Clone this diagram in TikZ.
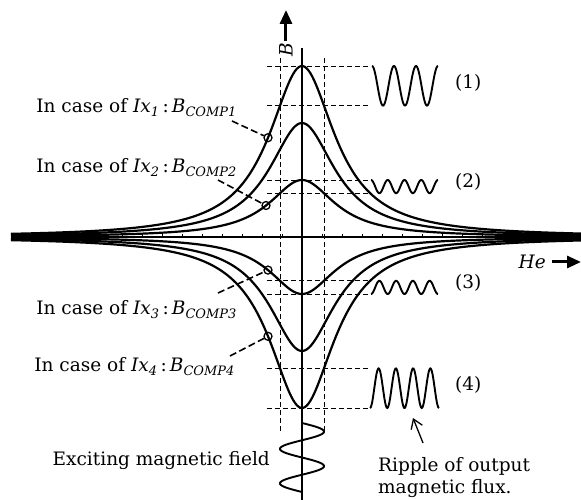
\documentclass[tikz,border=0pt]{standalone}
\usepackage{fontspec}
\setmainfont{DejaVu Serif}
\usetikzlibrary{arrows.meta}
\newcommand{\casetext}[1]{In case of \textit{Ix}\textsubscript{\textit{#1}}\,:\,\textit{B}\textsubscript{\textit{COMP#1}}}

\begin{document}
\begin{tikzpicture}[
  x=1pt, y=1pt,
  font=\fontsize{18.5}{22}\selectfont,
  axis/.style={line width=1.3pt},
  curve/.style={line width=2.2pt, smooth, samples=300, domain=-291:279},
  guide/.style={line width=0.8pt, dash pattern=on 5pt off 3pt},
  leader/.style={line width=1.6pt, dash pattern=on 7pt off 3.5pt},
  wave/.style={line width=1.9pt, smooth, samples=120},
  probe/.style={circle, draw, line width=1.3pt, inner sep=0pt, minimum size=8pt},
  lbl/.style={inner sep=0pt},
  big/.style={-{Triangle[length=14pt, width=12pt]}, line width=3pt}
]
\useasboundingbox (-302,-263) rectangle (279,237);
% axes
\draw[axis] (-291,0) -- (279,0);
\draw[axis] (0,189) -- (0,-263);
\foreach \t in {-280,-260,...,260}
  \draw[line width=0.5pt] (\t,0) -- (\t,3);
% guides
\draw[guide] (-22,179) -- (-22,-194);
\draw[guide] (22,179) -- (22,-194);
\foreach \yy in {171,131.3,57,43.8,-43.8,-57,-131.3,-171}
  \draw[guide] (-35,\yy) -- (68,\yy);
% curves
\foreach \amp in {171,114,57} {
  \draw[curve] plot (\x,{\amp/(1+(\x/40)^2)});
  \draw[curve] plot (\x,{-\amp/(1+(\x/40)^2)});
}
% ripples
\draw[wave] plot[domain=70:136] (\x,{151.2+19.8*cos(16.364*(\x-70))});
\draw[wave] plot[domain=69:136] (\x,{50.4+6.6*cos(21.49*(\x-69))});
\draw[wave] plot[domain=69:136] (\x,{-50.4-6.6*cos(21.49*(\x-69))});
\draw[wave] plot[domain=68:137] (\x,{-151.2-19.8*cos(20.87*(\x-68))});
\node[lbl, anchor=west] (n1) at (153,154) {(1)};
\node[lbl, anchor=west] (n2) at (153,55) {(2)};
\node[lbl, anchor=west] (n3) at (153,-46) {(3)};
\node[lbl, anchor=west] (n4) at (153,-148) {(4)};
% exciting field
\draw[wave] plot[domain=-186:-255] ({22*sin(10.435*(-186-\x))},\x);
% probes and cases
\node[probe] (c1) at (-34,99.3) {};
\node[probe] (c2) at (-36,31.5) {};
\node[probe] (c3) at (-34,-33.1) {};
\node[probe] (c4) at (-34,-99.3) {};
\node[lbl, anchor=base east] (k1) at (-65,124) {\casetext{1}};
\node[lbl, anchor=base east] (k2) at (-65,64) {\casetext{2}};
\node[lbl, anchor=base east] (k3) at (-65,-78) {\casetext{3}};
\node[lbl, anchor=base east] (k4) at (-67,-135) {\casetext{4}};
\coordinate (s1) at (-70,116);
\coordinate (s2) at (-84,57);
\coordinate (s3) at (-84,-56);
\coordinate (s4) at (-72,-119);
\draw[leader] (s1) -- (c1);
\draw[leader] (s2) -- (c2);
\draw[leader] (s3) -- (c3);
\draw[leader] (s4) -- (c4);
% axis names
\node[lbl, rotate=90] (bname) at (-16,187) {\textit{B}};
\coordinate (btip) at (-16,227);
\draw[big] ([yshift=2pt]bname.east) -- (btip);
\node[lbl, anchor=east] (hname) at (244,-25) {\textit{He}};
\coordinate (htip) at (279,-25);
\draw[big] ([xshift=6pt]hname.east) -- (htip);
% bottom texts
\node[lbl, anchor=base east] (exc) at (-32,-228) {Exciting magnetic field};
\node[lbl, anchor=base west, align=left] (rip) at (76,-256) {Ripple of output\\magnetic flux.};
\coordinate (rtail) at (121,-206);
\coordinate (rtip) at (111,-181);
\draw[line width=1.3pt, -{Straight Barb[length=9pt, width=12pt]}] (rtail) -- (rtip);
\end{tikzpicture}
\end{document}
